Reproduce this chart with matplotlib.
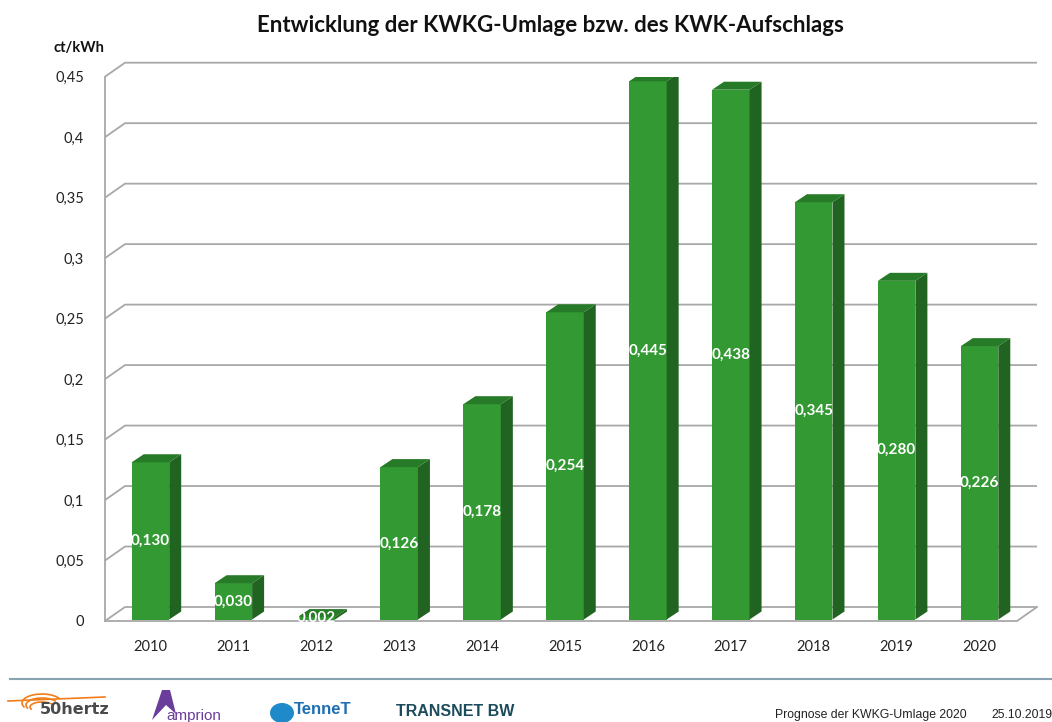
import matplotlib
matplotlib.use("Agg")
import matplotlib.pyplot as plt
from matplotlib.patches import Polygon, Ellipse, Arc
import numpy as np

# ---- data ----
years = ["2010", "2011", "2012", "2013", "2014", "2015", "2016", "2017", "2018", "2019", "2020"]
values = [0.130, 0.030, 0.002, 0.126, 0.178, 0.254, 0.445, 0.438, 0.345, 0.280, 0.226]
value_labels = ["0,130", "0,030", "0,002", "0,126", "0,178", "0,254", "0,445", "0,438", "0,345", "0,280", "0,226"]
yticks = [0, 0.05, 0.1, 0.15, 0.2, 0.25, 0.3, 0.35, 0.4, 0.45]
ytick_labels = ["0", "0,05", "0,1", "0,15", "0,2", "0,25", "0,3", "0,35", "0,4", "0,45"]
title = "Entwicklung der KWKG-Umlage bzw. des KWK-Aufschlags"
unit = "ct/kWh"
footer_text = "Prognose der KWKG-Umlage 2020"
footer_date = "25.10.2019"

W, H = 1052, 722
fig = plt.figure(figsize=(W / 100, H / 100), dpi=100)
fig.patch.set_facecolor("white")

# axes: front plane, x from 105 to 1017 px, y=0 at 621 px, y=0.45 at 76.7 px
x0, x1 = 105, 1017
y0, y45 = 621, 76.7
ax = fig.add_axes([x0 / W, (H - y0) / H, (x1 - x0) / W, (y0 - y45) / H])
ax.set_xlim(-0.5, 10.5)
ax.set_ylim(0, 0.45)
for s in ax.spines.values():
    s.set_visible(False)
ax.set_facecolor("none")

pxx = (x1 - x0) / 11.0          # px per x unit
pxy = (y0 - y45) / 0.45         # px per y unit
wall_dx, wall_dy = 20 / pxx, 14 / pxy
bar_dx, bar_dy = 12 / pxx, 8 / pxy
shift_x, shift_y = 4 / pxx, 1.5 / pxy
bw = 37.5 / pxx

grid_c = "#a8a8a8"
lw = 1.3
xl, xr = -0.5, 10.5
# gridlines (diagonal + back horizontal)
for t in yticks:
    ax.plot([xl, xl + wall_dx, xr + wall_dx], [t, t + wall_dy, t + wall_dy],
            color=grid_c, lw=lw, clip_on=False, zorder=1, solid_capstyle="butt")
# left vertical axis line
ax.plot([xl, xl], [0, 0.45], color=grid_c, lw=lw, clip_on=False, zorder=1)
# floor
ax.plot([xl, xr, xr + wall_dx], [0, 0, wall_dy], color=grid_c, lw=lw, clip_on=False, zorder=1)

front_c = "#339933"
side_c = "#216321"
top_c = "#277a27"
xs = np.arange(len(years))
bx = xs + shift_x
ax.bar(bx, values, width=bw, bottom=shift_y, color=front_c, zorder=3, edgecolor="none")
for xc, v in zip(bx, values):
    l, r = xc - bw / 2, xc + bw / 2
    b, t = shift_y, shift_y + v
    ax.add_patch(Polygon([(r, b), (r + bar_dx, b + bar_dy), (r + bar_dx, t + bar_dy), (r, t)],
                         closed=True, facecolor=side_c, edgecolor="none", zorder=3))
    ax.add_patch(Polygon([(l, t), (l + bar_dx, t + bar_dy), (r + bar_dx, t + bar_dy), (r, t)],
                         closed=True, facecolor=top_c, edgecolor="none", zorder=3))

for xc, v, lab in zip(bx, values, value_labels):
    ax.text(xc, shift_y + v / 2, lab, ha="center", va="center", color="white",
            fontsize=11, fontweight="bold", family="Lato", zorder=5)

ax.set_yticks(yticks)
ax.set_yticklabels(ytick_labels, family="Lato", fontsize=10.5, color="#222222")
ax.set_xticks(bx)
ax.set_xticklabels(years, family="Lato", fontsize=10.5, color="#222222")
ax.tick_params(axis="y", length=0, pad=15)
ax.tick_params(axis="x", length=0, pad=14)

fig.text(550 / W, 1 - 26 / H, title, ha="center", va="center", fontsize=16,
         fontweight="bold", family="Lato", color="#111111")
fig.text(79 / W, 1 - 48 / H, unit, ha="center", va="center", fontsize=10.5,
         fontweight="bold", family="Lato", color="#111111")

# footer line
fig.add_artist(plt.Line2D([10 / W, 1.0], [1 - 679 / H, 1 - 679 / H], color="#8aa3b3", lw=1.5))

# logos (text approximations)
fig.text(40 / W, 1 - 710 / H, "50hertz", ha="left", va="center", fontsize=11.5,
         fontweight="bold", family="Liberation Sans Narrow", color="#4a4a4a")
for k in range(3):
    fig.add_artist(Arc((42 / W, 1 - (703 + k * 2) / H), (40 - k * 8) / W, (18 - k * 4) / H,
                       theta1=20, theta2=200, color="#f07d1a", lw=1.2, transform=fig.transFigure))
fig.add_artist(plt.Line2D([8 / W, 105 / W], [1 - 701 / H, 1 - 697 / H], color="#f07d1a", lw=1.2))
fig.add_artist(Polygon([(152 / W, 1 - 720 / H), (162 / W, 1 - 690 / H), (170 / W, 1 - 690 / H),
                        (176 / W, 1 - 714 / H), (166 / W, 1 - 705 / H)], closed=True,
                       facecolor="#6a3d9a", edgecolor="none", transform=fig.transFigure))
fig.text(166 / W, 1 - 716 / H, "amprion", ha="left", va="center", fontsize=11,
         family="Liberation Sans", color="#6a3d9a")
fig.add_artist(Ellipse((282 / W, 1 - 713 / H), 24 / W, 20 / H, facecolor="#1f8ac9",
                       edgecolor="none", transform=fig.transFigure))
fig.text(294 / W, 1 - 709 / H, "TenneT", ha="left", va="center", fontsize=12,
         fontweight="bold", family="Liberation Sans", color="#1f6fb0")
fig.text(396 / W, 1 - 712 / H, "TRANSNET BW", ha="left", va="center", fontsize=11.5,
         fontweight="bold", family="Liberation Sans", color="#1c4b5c")

fig.text(775 / W, 1 - 715 / H, footer_text, ha="left", va="center", fontsize=8.8,
         family="Liberation Sans", color="#222222")
fig.text(991 / W, 1 - 715 / H, footer_date, ha="left", va="center", fontsize=8.8,
         family="Liberation Sans", color="#222222")

fig.savefig("out.png", dpi=100, facecolor="white")
